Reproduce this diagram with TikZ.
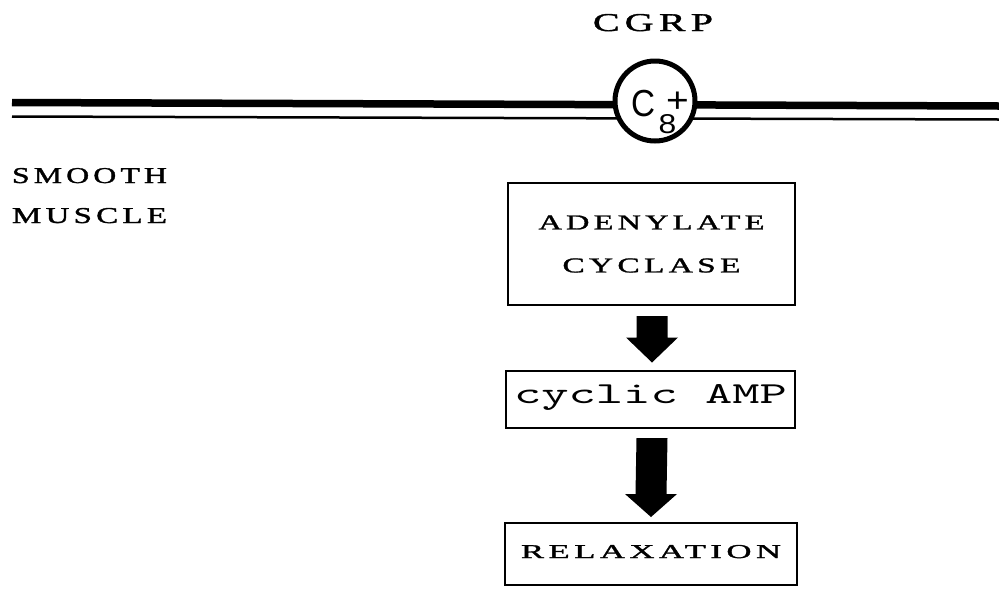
\documentclass[tikz,border=0pt]{standalone}
\usepackage{fontspec}
\usepackage{graphicx}
\usetikzlibrary{calc}

% wide engraved-style capitals, typewriter text and the receptor lettering
\newfontfamily\engr{Liberation Serif}[LetterSpace=13, FakeBold=1.2]
\newfontfamily\helv{Liberation Sans}
\newcommand\typew{\ttfamily\addfontfeature{FakeBold=1.5}}

% set a piece of text to an exact width and height
\newcommand\fitto[3]{\resizebox{#1}{#2}{#3}}

% block arrow: #1 top of the shaft, #2 tip, #3 length of the head
\newcommand\blockarrow[3]{%
  \fill[bigarrow] ($(#1)+(-15.5,0)$) -- ($(#1)+(15.5,0)$)
    -- ($(#2)+(15.5,-#3)$) -- ($(#2)+(26,-#3)$) -- (#2)
    -- ($(#2)+(-26,-#3)$) -- ($(#2)+(-15.5,-#3)$) -- cycle;}

\begin{document}
\begin{tikzpicture}[x=1pt,y=-1pt,
  membrane thick/.style={line width=7.5pt},
  membrane thin/.style={line width=2.5pt},
  stepbox/.style={draw, rectangle, line width=2pt, inner sep=0pt},
  bigarrow/.style={fill=black},
  txt/.style={inner sep=0pt, outer sep=0pt},
  receptor/.style={circle, draw, line width=5pt, fill=white, minimum size=80pt, inner sep=0pt}]

\useasboundingbox (0,0) rectangle (999,590);

% cell membrane: a heavy outer line and a thin inner line
\coordinate (memL)  at (12,102.5);
\coordinate (memR)  at (999,106);
\coordinate (memLi) at (12,116.5);
\coordinate (memRi) at (999,119.5);
\draw[membrane thick] (memL) -- (memR);
\draw[membrane thin] (memLi) -- (memRi);

% receptor in the membrane, labelled C with subscript 8 and superscript +
\node[receptor] (recep) at (655,101) {};
\node[txt, anchor=base west, font=\helv] (reclabel) at ($(recep.center)+(-24,15.3)$)
  {\fitto{24pt}{26.3pt}{C}\kern3.7pt%
   \rlap{\raisebox{-17.2pt}{\fitto{17.7pt}{19pt}{8}}}\kern7.3pt%
   \raisebox{4.3pt}{\fitto{22.7pt}{20.5pt}{+}}};

% ligand and cell labels
\node[txt, anchor=base] (cgrp) at (653,31) {\fitto{120pt}{17pt}{\engr CGRP}};
\node[txt, anchor=base west] (smooth) at (12,183) {\fitto{155pt}{15pt}{\engr SMOOTH}};
\node[txt, anchor=base west] (muscle) at (12,223) {\fitto{155pt}{15pt}{\engr MUSCLE}};

% signalling cascade
\node[stepbox, minimum width=287pt, minimum height=122pt, align=center,
      font=\fontsize{10}{43}\selectfont] (adc) at (651.5,244)
  {\fitto{226pt}{14pt}{\engr ADENYLATE}\\\fitto{178pt}{14pt}{\engr CYCLASE}};
\node[stepbox, minimum width=289pt, minimum height=57.5pt,
      text height=12pt, text depth=4pt] (camp) at (650.5,399.25)
  {\fitto{273pt}{19pt}{\typew cyclic AMP}};
\node[stepbox, minimum width=292pt, minimum height=62pt,
      text height=13pt, text depth=5pt] (relax) at (651,554)
  {\fitto{260pt}{13pt}{\engr RELAXATION}};

\coordinate (a1top) at ($(adc.south)+(0.5,10)$);
\coordinate (a1tip) at ($(camp.north)+(1.5,-7)$);
\blockarrow{a1top}{a1tip}{25}

\coordinate (a2top) at ($(camp.south)+(1.5,9)$);
\coordinate (a2tip) at ($(relax.north)+(0,-5)$);
\blockarrow{a2top}{a2tip}{23}

\end{tikzpicture}
\end{document}
